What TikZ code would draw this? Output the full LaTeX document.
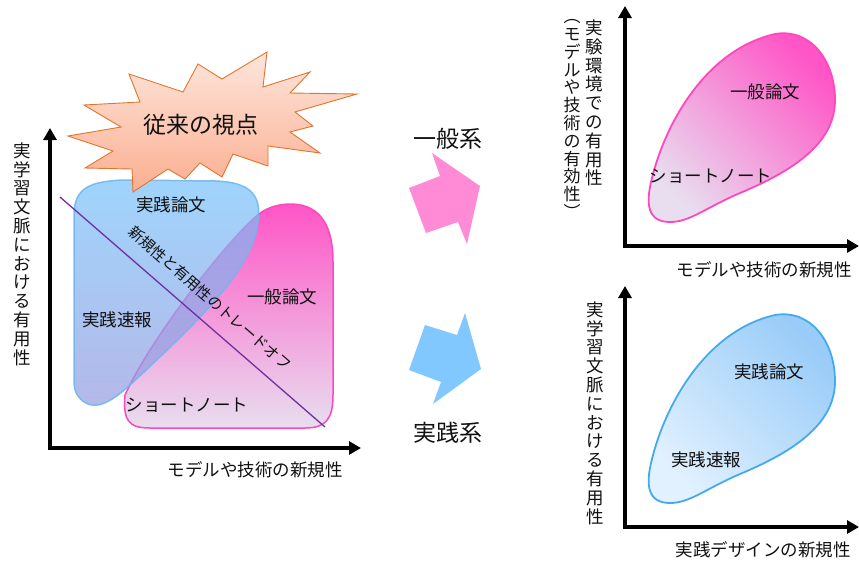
\documentclass[tikz,border=0pt]{standalone}
\usepackage{fontspec}
\newfontfamily\jp{Noto Sans CJK JP}
\usetikzlibrary{arrows.meta}
\definecolor{txt}{HTML}{111111}
\definecolor{pinkline}{HTML}{FF48BE}
\definecolor{pinktop}{HTML}{FF55C6}
\definecolor{pinkbot}{HTML}{E8DEEF}
\definecolor{blueline}{HTML}{6FB8F0}
\definecolor{bluetop}{HTML}{77C2FB}
\definecolor{bluebot}{HTML}{9499DE}
\definecolor{tdbluetop}{HTML}{99CCF8}
\definecolor{tdbluebot}{HTML}{E2F1FF}
\definecolor{tdblueline}{HTML}{44AAEE}
\definecolor{purpleline}{HTML}{7030A0}
\definecolor{startop}{HTML}{FDE6DC}
\definecolor{starbot}{HTML}{FBAE90}
\definecolor{starline}{HTML}{E3742A}
\definecolor{arrpink}{HTML}{FF8AD6}
\definecolor{arrblue}{HTML}{80C8FF}
\tikzset{
  lbl/.style={font=\jp\fontsize{17.5}{20}\selectfont, inner sep=0pt, text=txt},
  biglbl/.style={font=\jp\fontsize{23}{26}\selectfont, inner sep=0pt, text=txt},
  vlbl/.style={align=center, inner sep=0pt, text=txt,
    font={\jp\fontsize{17.5}{18.8}\selectfont\lineskiplimit=-100pt\lineskip=0pt}},
  vlblb/.style={align=center, inner sep=0pt, text=txt,
    font={\jp\fontsize{17}{17.8}\selectfont\lineskiplimit=-100pt\lineskip=0pt}},
  axisline/.style={line width=3.5pt, draw=black, -{Triangle[length=12pt,width=13pt]}},
}
\begin{document}
\begin{tikzpicture}[x=1pt,y=-1pt]
\useasboundingbox (0,0) rectangle (859,563);

% ---------------- left chart ----------------
% pink blob (general papers)
\shade[top color=pinktop, bottom color=pinkbot]
  (125,395) .. controls (150,340) and (220,250) .. (252,220)
  .. controls (265,207) and (278,204) .. (292,204)
  .. controls (322,205) and (333,228) .. (333,262)
  -- (333,395) .. controls (333,420) and (325,428) .. (305,428)
  -- (150,428) .. controls (128,428) and (123,420) .. (125,395) -- cycle;
\draw[pinkline, line width=1.5pt]
  (125,395) .. controls (150,340) and (220,250) .. (252,220)
  .. controls (265,207) and (278,204) .. (292,204)
  .. controls (322,205) and (333,228) .. (333,262)
  -- (333,395) .. controls (333,420) and (325,428) .. (305,428)
  -- (150,428) .. controls (128,428) and (123,420) .. (125,395) -- cycle;
% blue blob (practice papers)
\shade[top color=bluetop, bottom color=bluebot, fill opacity=0.7]
  (74,380) -- (74,215) .. controls (74,188) and (90,181) .. (125,180)
  -- (215,181) .. controls (250,182) and (262,195) .. (258,222)
  .. controls (252,270) and (200,320) .. (130,385)
  .. controls (110,403) and (96,410) .. (84,402)
  .. controls (76,396) and (74,390) .. (74,380) -- cycle;
\draw[blueline, line width=1.5pt, draw opacity=0.9]
  (74,380) -- (74,215) .. controls (74,188) and (90,181) .. (125,180)
  -- (215,181) .. controls (250,182) and (262,195) .. (258,222)
  .. controls (252,270) and (200,320) .. (130,385)
  .. controls (110,403) and (96,410) .. (84,402)
  .. controls (76,396) and (74,390) .. (74,380) -- cycle;

% trade-off line
\coordinate (t1) at (60,197);
\coordinate (t2) at (325,427);
\draw[purpleline, line width=1.3pt] (t1) -- (t2);
\node[font=\jp\fontsize{15}{17}\selectfont, inner sep=0pt, text=txt, rotate=-41]
  (tradeoff) at (210,298) {新規性と有用性のトレードオフ};

% blob labels
\node[lbl] (jp1) at (171,205) {実践論文};
\node[lbl] (jr1) at (117,320) {実践速報};
\node[lbl] (ip1) at (282,297) {一般論文};
\node[lbl] (sn1) at (187,405) {ショートノート};

% starburst
\shade[top color=startop, bottom color=starbot]
  (198,64) -- (222,79) -- (267,52) -- (263,87) -- (310,72) -- (290,93)
  -- (357,94) -- (295,112) -- (313,126) -- (290,132) -- (320,153)
  -- (268,146) -- (268,166) -- (233,154) -- (222,177) -- (200,163)
  -- (185,179) -- (168,169) -- (133,192) -- (132,169) -- (85,168)
  -- (113,151) -- (68,136) -- (121,127) -- (84,105) -- (140,102)
  -- (129,74) -- (183,92) -- cycle;
\draw[starline, line width=0.9pt, line join=miter]
  (198,64) -- (222,79) -- (267,52) -- (263,87) -- (310,72) -- (290,93)
  -- (357,94) -- (295,112) -- (313,126) -- (290,132) -- (320,153)
  -- (268,146) -- (268,166) -- (233,154) -- (222,177) -- (200,163)
  -- (185,179) -- (168,169) -- (133,192) -- (132,169) -- (85,168)
  -- (113,151) -- (68,136) -- (121,127) -- (84,105) -- (140,102)
  -- (129,74) -- (183,92) -- cycle;
\node[biglbl] (view) at (201,125) {従来の視点};

% axes
\coordinate (o1b) at (50,450);
\coordinate (o1l) at (48,448);
\coordinate (y1) at (50,128);
\coordinate (x1) at (361,448);
\draw[axisline] (o1b) -- (y1);
\draw[axisline] (o1l) -- (x1);
\node[vlbl] (ylab1) at (22,254) {実\\学\\習\\文\\脈\\に\\お\\け\\る\\有\\用\\性};
\node[lbl] (xlab1) at (255,470) {モデルや技術の新規性};

% ---------------- middle arrows ----------------
\fill[arrpink] (409,188) -- (440,176) -- (432,153) -- (480,186) -- (467,244) -- (458,222) -- (426,233) -- cycle;
\fill[arrblue] (409,370) -- (425,325) -- (457,335) -- (465,313) -- (481,369) -- (433,404) -- (441,382) -- cycle;
\node[biglbl] (gen) at (448,139) {一般系};
\node[biglbl] (prac) at (448,433) {実践系};

% ---------------- top-right chart ----------------
\shade[top color=pinktop, bottom color=pinkbot, shading angle=-45]
  (670,222) .. controls (648,222) and (645,205) .. (652,178)
  .. controls (665,125) and (705,50) .. (775,34)
  .. controls (810,28) and (835,60) .. (835,100)
  .. controls (835,140) and (800,168) .. (740,193)
  .. controls (705,208) and (690,222) .. (670,222) -- cycle;
\draw[pinkline, line width=1.8pt]
  (670,222) .. controls (648,222) and (645,205) .. (652,178)
  .. controls (665,125) and (705,50) .. (775,34)
  .. controls (810,28) and (835,60) .. (835,100)
  .. controls (835,140) and (800,168) .. (740,193)
  .. controls (705,208) and (690,222) .. (670,222) -- cycle;
\node[lbl] (ip2) at (765,92) {一般論文};
\node[lbl] (sn2) at (711,176) {ショートノート};
\coordinate (o2b) at (625,248);
\coordinate (o2l) at (623,246);
\coordinate (y2) at (625,6);
\coordinate (x2) at (859,246);
\draw[axisline] (o2b) -- (y2);
\draw[axisline] (o2l) -- (x2);
\node[vlbl] (ylab2) at (594,103) {実\\験\\環\\境\\で\\の\\有\\用\\性};
\node[vlblb] (ylab2b) at (572,119) {︵\\モ\\デ\\ル\\や\\技\\術\\の\\有\\効\\性\\︶};
\node[lbl] (xlab2) at (764,270) {モデルや技術の新規性};

% ---------------- bottom-right chart ----------------
\begin{scope}[yshift=-281pt]
\shade[top color=tdbluetop, bottom color=tdbluebot, shading angle=-45]
  (670,222) .. controls (648,222) and (645,205) .. (652,178)
  .. controls (665,125) and (705,50) .. (775,34)
  .. controls (810,28) and (835,60) .. (835,100)
  .. controls (835,140) and (800,168) .. (740,193)
  .. controls (705,208) and (690,222) .. (670,222) -- cycle;
\draw[tdblueline, line width=1.8pt]
  (670,222) .. controls (648,222) and (645,205) .. (652,178)
  .. controls (665,125) and (705,50) .. (775,34)
  .. controls (810,28) and (835,60) .. (835,100)
  .. controls (835,140) and (800,168) .. (740,193)
  .. controls (705,208) and (690,222) .. (670,222) -- cycle;
\end{scope}
\node[lbl] (jp3) at (769,372) {実践論文};
\node[lbl] (jr3) at (706,460) {実践速報};
\coordinate (o3b) at (625,529);
\coordinate (o3l) at (623,527);
\coordinate (y3) at (625,286);
\coordinate (x3) at (859,527);
\draw[axisline] (o3b) -- (y3);
\draw[axisline] (o3l) -- (x3);
\node[vlbl] (ylab3) at (595,413) {実\\学\\習\\文\\脈\\に\\お\\け\\る\\有\\用\\性};
\node[lbl] (xlab3) at (763,550) {実践デザインの新規性};
\end{tikzpicture}
\end{document}
